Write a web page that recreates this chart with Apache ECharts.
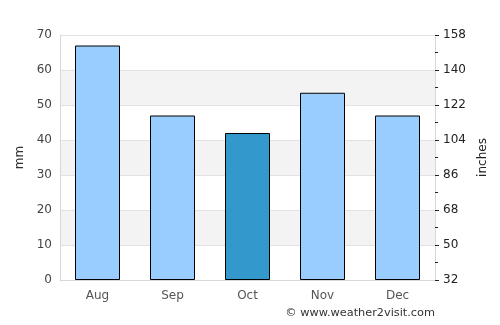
<!DOCTYPE html>
<html>
<head>
<meta charset="utf-8">
<script src="https://cdn.jsdelivr.net/npm/echarts@6/dist/echarts.min.js"></script>
<style>
  html, body { margin: 0; padding: 0; background: #fff; }
  #chart-root { width: 500px; height: 325px; }
</style>
</head>
<body>
<div id="chart-root"></div>
<script>
// rainfall per month (mm)
var months = ["Aug", "Sep", "Oct", "Nov", "Dec"];
var rainMm = [67, 47, 42, 53.5, 47];
var highlightMonth = "Oct";
// right-hand scale labels, 32..158 step 18 (shown as offset from 32)
var rightBase = 32;
var rightSpan = 126;
var rightStep = 18;

var chart = echarts.init(document.getElementById("chart-root"));

var option = {
  animation: false,
  textStyle: { fontFamily: "DejaVu Sans" },
  grid: { left: 60, right: 65, top: 35, bottom: 45 },
  graphic: [{
    type: "text",
    right: 65,
    top: 308,
    style: {
      text: "© www.weather2visit.com",
      fill: "#333",
      font: "11.3px DejaVu Sans"
    }
  }],
  xAxis: {
    type: "category",
    data: months,
    axisLine: { lineStyle: { color: "#d8d8d8" } },
    axisTick: { show: false },
    axisLabel: { color: "#555", fontSize: 12, margin: 10 }
  },
  yAxis: [
    {
      type: "value",
      min: 0,
      max: 70,
      interval: 10,
      name: "mm",
      nameLocation: "middle",
      nameGap: 34,
      nameTextStyle: { color: "#333", fontSize: 12 },
      axisLine: { show: true, lineStyle: { color: "#d8d8d8" } },
      axisTick: { show: false },
      axisLabel: { color: "#444", fontSize: 12, margin: 8 },
      splitLine: { lineStyle: { color: "#e2e2e2" } },
      splitArea: { show: true, areaStyle: { color: ["#ffffff", "#f3f3f3"] } }
    },
    {
      type: "value",
      min: 0,
      max: rightSpan,
      interval: rightStep,
      position: "right",
      name: "inches",
      nameLocation: "middle",
      nameGap: 39,
      nameTextStyle: { color: "#222", fontSize: 12 },
      axisLine: { show: true, lineStyle: { color: "#d8d8d8" } },
      axisTick: { show: true, length: 4, lineStyle: { color: "#222" } },
      minorTick: { show: true, splitNumber: 2, length: 3, lineStyle: { color: "#222" } },
      axisLabel: {
        color: "#222",
        fontSize: 12,
        margin: 8,
        formatter: function (v) { return String(v + rightBase); }
      },
      splitLine: { show: false }
    }
  ],
  series: [{
    type: "bar",
    yAxisIndex: 0,
    barWidth: "60%",
    data: rainMm.map(function (v, i) {
      return {
        value: v,
        itemStyle: { color: months[i] === highlightMonth ? "#3399cc" : "#99ccff" }
      };
    }),
    itemStyle: { borderColor: "#000", borderWidth: 1 }
  }]
};

chart.setOption(option);
</script>
</body>
</html>
